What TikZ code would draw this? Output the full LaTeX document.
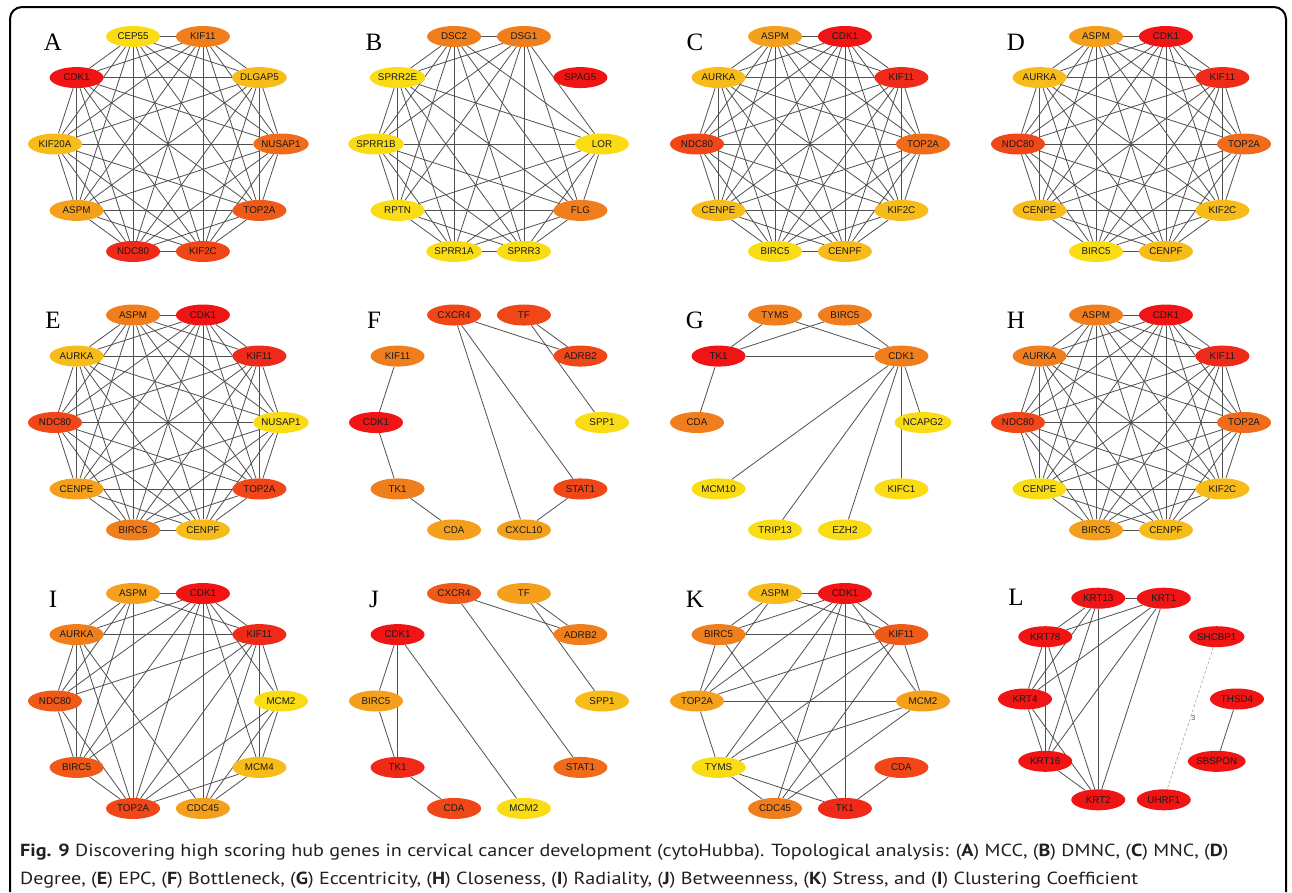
\documentclass[tikz,border=0pt]{standalone}
\usepackage{fontspec}
\setmainfont{Liberation Serif}
\newfontfamily\gfont{Liberation Sans}
\newfontfamily\capfont[FakeStretch=1.15]{PT Sans}
\usetikzlibrary{shapes.geometric,calc}
\pgfdeclarelayer{bg}
\pgfsetlayers{bg,main}
\definecolor{cR}{HTML}{F01414}
\definecolor{cRO}{HTML}{F02A18}
\definecolor{cOR}{HTML}{F04618}
\definecolor{cOR2}{HTML}{F05A18}
\definecolor{cO2}{HTML}{F06C1A}
\definecolor{cO}{HTML}{F07E1C}
\definecolor{cLO}{HTML}{F5A01C}
\definecolor{cA}{HTML}{F8BC1A}
\definecolor{cY}{HTML}{FADC14}
\definecolor{edgec}{HTML}{505050}
\definecolor{capc}{HTML}{231F20}
\tikzset{
  gnode/.style={ellipse, draw=none, fill=#1, minimum width=54pt, minimum height=21pt,
    inner sep=0pt, font=\gfont\fontsize{9.8}{10}\selectfont, text=black!90},
  edge/.style={draw=edgec, line width=0.8pt},
  plabel/.style={font=\fontsize{25}{25}\selectfont, anchor=center},
  captext/.style={anchor=base west, inner sep=0pt, text=capc, font=\capfont\fontsize{17.5}{20}\selectfont},
}
% #1 letter, #2 cx, #3 cy, #4 radius, #5 list label/colour
\newcommand\mkpanel[5]{%
  \node[plabel] (lab#1) at (#2-115,-#3+102) {#1};
  \foreach \lab/\col [count=\k from 0] in {#5}{%
    \node[gnode=\col] (#1\k) at ($(#2,-#3)+(108-36*\k:#4)$) {\lab};
  }%
}
% complete graph on 10 nodes, skipping node #2
\newcommand\mkcomplete[2]{%
  \begin{pgfonlayer}{bg}
  \foreach \i in {0,...,8}{%
    \pgfmathtruncatemacro\ii{\i+1}%
    \foreach \j in {\ii,...,9}{%
      \ifnum\i=#2\relax\else\ifnum\j=#2\relax\else
        \draw[edge] (#1\i) -- (#1\j);
      \fi\fi
    }%
  }
  \end{pgfonlayer}%
}
\newcommand\mkedges[2]{%
  \begin{pgfonlayer}{bg}
  \foreach \a/\b in {#2}{\draw[edge] (#1\a) -- (#1\b);}
  \end{pgfonlayer}%
}
\begin{document}
\begin{tikzpicture}[x=1pt,y=1pt]
\useasboundingbox (0,0) rectangle (1292,-892);
\draw[line width=2pt, rounded corners=12pt] (10,-892) -- (10,-7) -- (1286,-7) -- (1286,-892);

% Row 1
\mkpanel{A}{168}{144}{113}{CEP55/cY,KIF11/cO,DLGAP5/cA,NUSAP1/cO2,TOP2A/cOR2,KIF2C/cOR,NDC80/cRO,ASPM/cLO,KIF20A/cA,CDK1/cR}
\mkcomplete{A}{99}
\mkpanel{B}{489}{144}{113}{DSC2/cO,DSG1/cO,SPAG5/cR,LOR/cY,FLG/cO,SPRR3/cY,SPRR1A/cY,RPTN/cY,SPRR1B/cY,SPRR2E/cY}
\mkcomplete{B}{2}
\mkpanel{C}{810}{144}{113}{ASPM/cLO,CDK1/cR,KIF11/cRO,TOP2A/cO2,KIF2C/cA,CENPF/cA,BIRC5/cY,CENPE/cA,NDC80/cOR,AURKA/cA}
\mkcomplete{C}{99}
\mkpanel{D}{1131}{144}{113}{ASPM/cLO,CDK1/cR,KIF11/cRO,TOP2A/cO2,KIF2C/cA,CENPF/cA,BIRC5/cY,CENPE/cA,NDC80/cOR,AURKA/cA}
\mkcomplete{D}{99}

% Row 2
\mkpanel{E}{168}{422.5}{113}{ASPM/cO,CDK1/cR,KIF11/cRO,NUSAP1/cY,TOP2A/cOR,CENPF/cA,BIRC5/cO,CENPE/cLO,NDC80/cOR,AURKA/cA}
\mkcomplete{E}{99}
\mkpanel{F}{489}{422.5}{113}{CXCR4/cOR,TF/cOR,ADRB2/cOR,SPP1/cY,STAT1/cOR,CXCL10/cLO,CDA/cLO,TK1/cO,CDK1/cR,KIF11/cO}
\mkedges{F}{9/8,8/7,7/6,0/2,1/2,1/3,0/5,0/4,4/5}
\mkpanel{G}{810}{422.5}{113}{TYMS/cO,BIRC5/cO,CDK1/cO,NCAPG2/cY,KIFC1/cY,EZH2/cY,TRIP13/cY,MCM10/cY,CDA/cO,TK1/cR}
\mkedges{G}{9/0,9/1,9/2,9/8,0/2,1/2,2/3,2/4,2/5,2/6,2/7}
\mkpanel{H}{1131}{422.5}{113}{ASPM/cO,CDK1/cR,KIF11/cRO,TOP2A/cO2,KIF2C/cA,CENPF/cA,BIRC5/cLO,CENPE/cY,NDC80/cOR,AURKA/cO}
\mkcomplete{H}{99}

% Row 3
\mkpanel{I}{168}{701}{113}{ASPM/cLO,CDK1/cR,KIF11/cRO,MCM2/cY,MCM4/cA,CDC45/cLO,TOP2A/cOR,BIRC5/cOR2,NDC80/cOR2,AURKA/cO}
\mkedges{I}{0/1,0/2,0/9,0/8,0/7,0/6,1/2,1/3,1/4,1/5,1/6,1/7,1/8,1/9,2/3,2/4,2/5,2/6,2/7,2/8,2/9,3/4,3/5,3/6,4/5,4/6,5/9,6/7,6/8,6/9,7/8,7/9,8/9}
\mkpanel{J}{489}{701}{113}{CXCR4/cOR2,TF/cLO,ADRB2/cO,SPP1/cA,STAT1/cO2,MCM2/cY,CDA/cOR,TK1/cRO,BIRC5/cLO,CDK1/cR}
\mkedges{J}{0/2,1/2,1/3,0/4,9/8,9/7,9/5,8/7,7/6}
\mkpanel{K}{810}{701}{113}{ASPM/cA,CDK1/cR,KIF11/cOR2,MCM2/cLO,CDA/cOR,TK1/cRO,CDC45/cO,TYMS/cY,TOP2A/cLO,BIRC5/cO}
\mkedges{K}{0/1,0/2,0/9,0/8,1/2,1/3,1/5,1/6,1/7,1/8,1/9,2/3,2/6,2/7,2/8,2/9,3/8,3/7,3/6,4/5,5/7,5/9,6/7,7/8,8/9}
\mkpanel{L}{1131}{699}{106}{KRT13/cR,KRT1/cR,SHCBP1/cR,THSD4/cR,SBSPON/cR,UHRF1/cR,KRT2/cR,KRT16/cR,KRT4/cR,KRT78/cR}
\mkedges{L}{0/1,0/9,0/8,0/7,0/6,1/9,1/8,1/7,1/6,9/8,9/7,9/6,8/7,8/6,7/6,3/4}
\begin{pgfonlayer}{bg}
\draw[edge, draw=black!40, line width=0.5pt, densely dashed] (L2) -- node[pos=0.5, xshift=3pt, font=\gfont\fontsize{7}{7}\selectfont, text=black!70, inner sep=1pt] (l3) {3} (L5);
\end{pgfonlayer}

% Caption
\node[captext] (cap1) at (20,-856) {\textbf{Fig. 9} Discovering high scoring hub genes in cervical cancer development (cytoHubba). Topological analysis: (\textbf{A}) MCC, (\textbf{B}) DMNC, (\textbf{C}) MNC, (\textbf{D})};
\node[captext] (cap2) at (20,-884) {Degree, (\textbf{E}) EPC, (\textbf{F}) Bottleneck, (\textbf{G}) Eccentricity, (\textbf{H}) Closeness, (\textbf{I}) Radiality, (\textbf{J}) Betweenness, (\textbf{K}) Stress, and (\textbf{I}) Clustering Coefficient};
\end{tikzpicture}
\end{document}
